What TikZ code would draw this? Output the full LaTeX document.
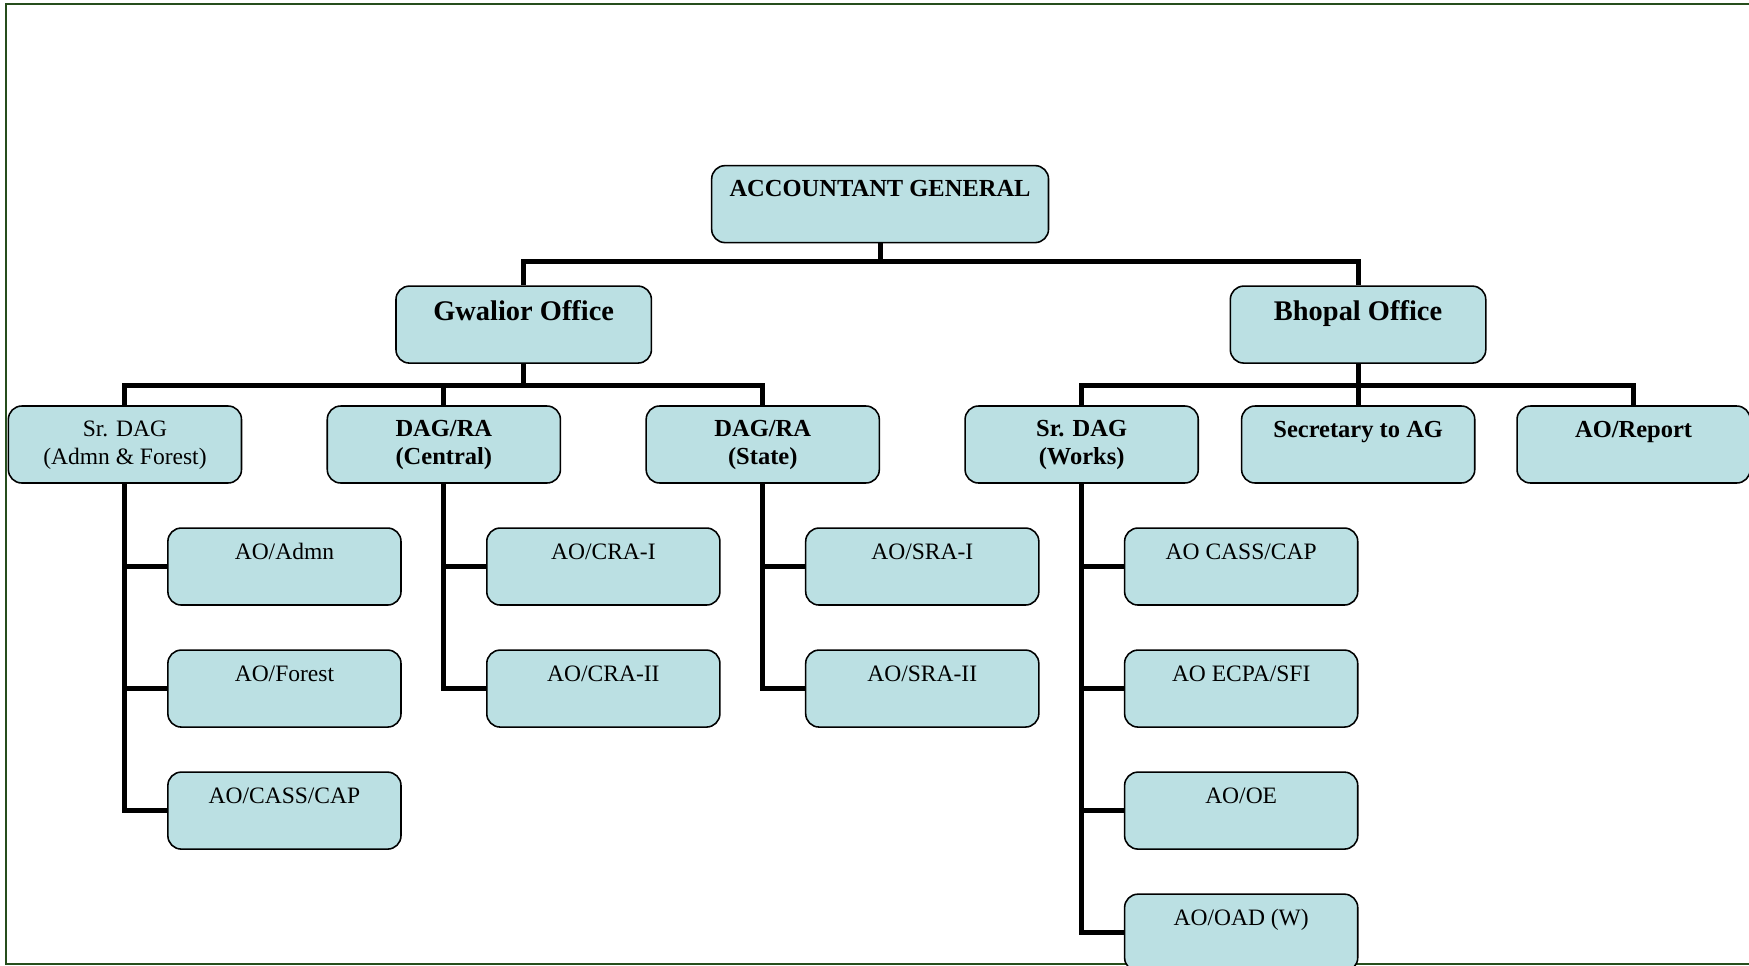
\documentclass[tikz,border=0pt]{standalone}
\usepackage{fontspec}
\setmainfont{Liberation Serif}
\usetikzlibrary{positioning}
\definecolor{boxfill}{RGB}{187,224,227}
\definecolor{framegreen}{RGB}{38,78,28}

\begin{document}
\begin{tikzpicture}[
        box/.style={draw,rounded corners=0.24cm,fill=boxfill,line width=0.8pt,minimum width=4.18cm,minimum height=1.38cm,inner ysep=0pt,align=center,text height=0.56cm,text depth=0.82cm,font=\fontsize{12}{14}\selectfont},
        twoline/.style={text height=1.04cm,text depth=0.34cm},
        head/.style={box,font=\fontsize{12.5}{14}\selectfont\bfseries},
        office/.style={box,minimum width=4.58cm,text height=0.62cm,text depth=0.76cm,font=\fontsize{14.5}{17}\selectfont\bfseries},
        link/.style={line width=2.5pt}
    ]
        \useasboundingbox (0,0) rectangle (31.36,-17.32);
        \draw[framegreen,line width=1pt] (31.5,-0.07) -- (0.11,-0.07) -- (0.11,-17.29) -- (31.5,-17.29);

        \node [head,minimum width=6.04cm] (ag) at (15.78,-3.66) {ACCOUNTANT GENERAL};
        \node [office] (gwalior) at (9.39,-5.82) {Gwalior Office};
        \node [office] (bhopal) at (24.35,-5.82) {Bhopal Office};

        \node [box,twoline] (srdagaf) at (2.24,-7.97) {Sr. DAG\\(Admn \& Forest)};
        \node [head,twoline,right=1.51cm of srdagaf] (dagcen) {DAG/RA\\(Central)};
        \node [head,twoline,right=1.51cm of dagcen] (dagsta) {DAG/RA\\(State)};
        \node [head,twoline,right=1.51cm of dagsta] (srdagw) {Sr. DAG\\(Works)};
        \node [head,right=0.75cm of srdagw] (secag) {Secretary to AG};
        \node [head,right=0.73cm of secag] (aorep) {AO/Report};

        \node [box,below=0.78cm of srdagaf,xshift=2.86cm] (aoadmn) {AO/Admn};
        \node [box,below=0.78cm of aoadmn] (aoforest) {AO/Forest};
        \node [box,below=0.78cm of aoforest] (aocass) {AO/CASS/CAP};
        \node [box,below=0.78cm of dagcen,xshift=2.86cm] (aocra1) {AO/CRA-I};
        \node [box,below=0.78cm of aocra1] (aocra2) {AO/CRA-II};
        \node [box,below=0.78cm of dagsta,xshift=2.86cm] (aosra1) {AO/SRA-I};
        \node [box,below=0.78cm of aosra1] (aosra2) {AO/SRA-II};
        \node [box,below=0.78cm of srdagw,xshift=2.86cm] (aocc) {AO CASS/CAP};
        \node [box,below=0.78cm of aocc] (aoecpa) {AO ECPA/SFI};
        \node [box,below=0.78cm of aoecpa] (aooe) {AO/OE};
        \node [box,below=0.78cm of aooe] (aooad) {AO/OAD (W)};

        \draw[link] (gwalior.north) -- ++(0,0.42) -| (ag.south);
        \draw[link] (bhopal.north) -- ++(0,0.42) -| (ag.south);
        \draw[link] (srdagaf.north) -- ++(0,0.36) -| (gwalior.south);
        \draw[link] (dagcen.north) -- ++(0,0.36) -| (gwalior.south);
        \draw[link] (dagsta.north) -- ++(0,0.36) -| (gwalior.south);
        \draw[link] (srdagw.north) -- ++(0,0.36) -| (bhopal.south);
        \draw[link] (secag.north) -- ++(0,0.36) -| (bhopal.south);
        \draw[link] (aorep.north) -- ++(0,0.36) -| (bhopal.south);

        \draw[link] (srdagaf.south) |- (aoadmn.west);
        \draw[link] (srdagaf.south) |- (aoforest.west);
        \draw[link] (srdagaf.south) |- (aocass.west);
        \draw[link] (dagcen.south) |- (aocra1.west);
        \draw[link] (dagcen.south) |- (aocra2.west);
        \draw[link] (dagsta.south) |- (aosra1.west);
        \draw[link] (dagsta.south) |- (aosra2.west);
        \draw[link] (srdagw.south) |- (aocc.west);
        \draw[link] (srdagw.south) |- (aoecpa.west);
        \draw[link] (srdagw.south) |- (aooe.west);
        \draw[link] (srdagw.south) |- (aooad.west);
    \end{tikzpicture}
\end{document}
